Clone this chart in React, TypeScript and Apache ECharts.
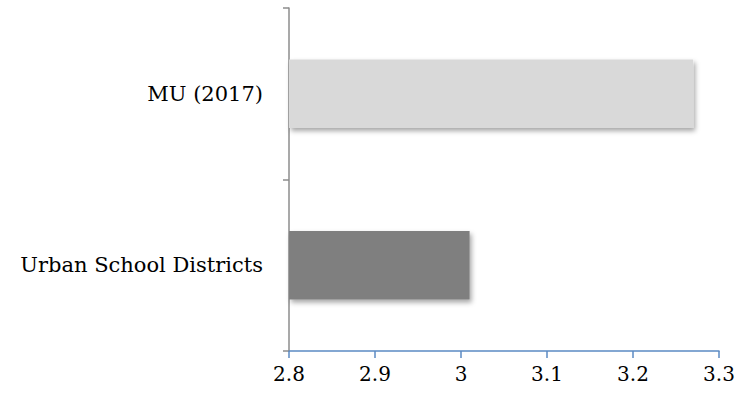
import React, { useEffect, useRef } from "react";
import * as echarts from "echarts";

const categories = ["Urban School Districts", "MU (2017)"];
const values = [3.01, 3.27];
const barColors = ["#7f7f7f", "#d9d9d9"];
const xTicks = { min: 2.8, max: 3.3, interval: 0.1 };

export default function App() {
  const ref = useRef<HTMLDivElement>(null);
  useEffect(() => {
    if (!ref.current) return;
    const chart = echarts.init(ref.current, undefined, { renderer: "svg" });
    const font = "'DejaVu Serif', 'Liberation Serif', serif";
    chart.setOption({
      animation: false,
      grid: { left: 289, right: 20, top: 8, bottom: 51, containLabel: false },
      xAxis: {
        type: "value",
        min: xTicks.min,
        max: xTicks.max,
        interval: xTicks.interval,
        splitLine: { show: false },
        axisLine: { show: true, lineStyle: { color: "#5b8ac3", width: 1.5 } },
        axisTick: { show: true, length: 7, lineStyle: { color: "#5b8ac3", width: 1.5 } },
        axisLabel: {
          color: "#000",
          fontFamily: font,
          fontSize: 20,
          margin: 13,
          formatter: (v: number) => String(Math.round(v * 10) / 10),
        },
      },
      yAxis: {
        type: "category",
        data: categories,
        axisLine: { show: true, lineStyle: { color: "#8c8c8c", width: 1.5 } },
        axisTick: { show: true, length: 6, lineStyle: { color: "#8c8c8c", width: 1.5 } },
        axisLabel: { color: "#000", fontFamily: font, fontSize: 21, margin: 26 },
      },
      series: [
        {
          type: "bar",
          barCategoryGap: "60%",
          data: values.map((v, i) => ({
            value: v,
            itemStyle: {
              color: barColors[i],
              shadowColor: "rgba(0,0,0,0.35)",
              shadowBlur: 5,
              shadowOffsetX: 2,
              shadowOffsetY: 3,
            },
          })),
        },
      ],
    });
    return () => chart.dispose();
  }, []);
  return (
    <div
      ref={ref}
      style={{ position: "fixed", left: 0, top: 0, width: 739, height: 402, background: "#fff" }}
    />
  );
}
